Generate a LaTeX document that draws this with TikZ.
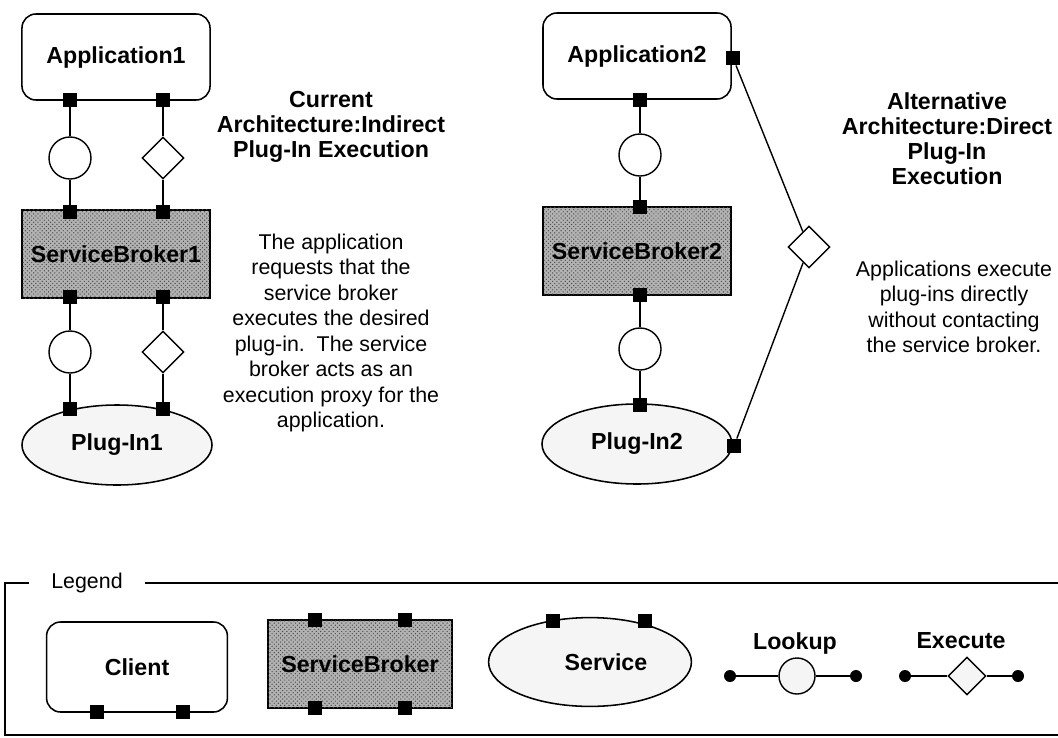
\documentclass[tikz,border=0pt]{standalone}
\usepackage{fontspec}
\setmainfont{Liberation Sans}
\usetikzlibrary{positioning,shapes.geometric,patterns}
\newcommand{\bigbf}{\fontsize{16.5}{17.8}\selectfont\bfseries}
\newcommand{\bodytxt}{\fontsize{15.2}{18.1}\selectfont}

\begin{document}
\begin{tikzpicture}[x=0.025cm, y=-0.025cm,
    port/.style={rectangle, fill=black, minimum size=0.36cm, inner sep=0pt},
    client/.style={draw, line width=1.1pt, rounded corners=0.35cm, minimum width=4.7cm, minimum height=2.15cm, font=\bigbf},
    broker/.style={draw, line width=1.1pt, fill=gray!60, postaction={pattern=crosshatch dots, pattern color=black!70}, minimum width=4.7cm, minimum height=2.2cm, inner sep=0pt, font=\bigbf},
    service/.style={ellipse, draw, line width=1.1pt, fill=gray!8, minimum width=4.75cm, minimum height=2cm, font=\bigbf},
    lookup/.style={circle, draw, line width=1pt, fill=white, minimum size=1.05cm, inner sep=0pt},
    execute/.style={diamond, draw, line width=1pt, fill=white, minimum size=1.05cm, inner sep=0pt},
    bullet/.style={circle, fill=black, minimum size=0.3cm, inner sep=0pt},
    title/.style={align=center, font=\bigbf},
    note/.style={align=center, font=\bodytxt},
    wire/.style={line width=1pt}]
  \useasboundingbox (0,0) rectangle (1058,737);

  % current architecture
  \node[client] (app1) at (116,57) {Application1};
  \node[broker] (sb1) at (116,254) {ServiceBroker1};
  \node[service] (pi1) at (117,445) {Plug-In1};
  \node[port] (a1l) at (70,100) {};
  \node[port] (a1r) at (163,100) {};
  \node[port] (s1tl) at (70,212) {};
  \node[port] (s1tr) at (163,212) {};
  \node[port] (s1bl) at (70,297) {};
  \node[port] (s1br) at (163,297) {};
  \node[port] (p1l) at (70,409) {};
  \node[port] (p1r) at (163,409) {};
  \node[lookup] (lk1) at (70,158) {};
  \node[execute] (ex1) at (163,158) {};
  \node[lookup] (lk2) at (70,352) {};
  \node[execute] (ex2) at (163,352) {};
  \draw[wire] (a1l) -- (lk1) -- (s1tl);
  \draw[wire] (a1r) -- (ex1) -- (s1tr);
  \draw[wire] (s1bl) -- (lk2) -- (p1l);
  \draw[wire] (s1br) -- (ex2) -- (p1r);
  \node[title] (cur) at (331,127) {Current\\Architecture:Indirect\\Plug-In Execution};
  \node[note] (curtxt) at (331,333) {The application\\requests that the\\service broker\\executes the desired\\plug-in.\ \ The service\\broker acts as an\\execution proxy for the\\application.};

  % alternative architecture
  \node[client] (app2) at (637,56) {Application2};
  \node[broker] (sb2) at (637,251) {ServiceBroker2};
  \node[service] (pi2) at (637,444) {Plug-In2};
  \node[port] (a2b) at (640,100) {};
  \node[port] (a2r) at (733,58) {};
  \node[port] (s2t) at (640,207) {};
  \node[port] (s2b) at (640,295) {};
  \node[port] (p2t) at (640,405) {};
  \node[port] (p2r) at (734,446) {};
  \node[lookup] (lk3) at (640,155) {};
  \node[lookup] (lk4) at (640,349) {};
  \node[execute] (ex3) at (809,247) {};
  \draw[wire] (a2b) -- (lk3) -- (s2t);
  \draw[wire] (s2b) -- (lk4) -- (p2t);
  \draw[wire] (a2r) -- (ex3) -- (p2r);
  \node[title] (alt) at (947,139) {Alternative\\Architecture:Direct\\Plug-In\\Execution};
  \node[note] (alttxt) at (954,307) {Applications execute\\plug-ins directly\\without contacting\\the service broker.};

  % legend
  \node[font=\bodytxt, inner xsep=0.55cm] (legend) at (87,583) {Legend};
  \draw[line width=0.9pt] (legend.west) -- (5,583) -- (5,735) -- (1058,735);
  \draw[line width=0.9pt] (legend.east) -- (1058,583);
  \node[client, minimum width=4.52cm, minimum height=2.25cm] (lcl) at (137,667) {Client};
  \node[port] (lclp1) at (97,712) {};
  \node[port] (lclp2) at (183,712) {};
  \node[broker, minimum width=4.6cm] (lsb) at (360,664) {ServiceBroker};
  \node[port] (lsbp1) at (315,620) {};
  \node[port] (lsbp2) at (405,620) {};
  \node[port] (lsbp3) at (315,708) {};
  \node[port] (lsbp4) at (405,708) {};
  \node[service, minimum width=5.07cm, minimum height=2.22cm] (lsv) at (590,662) {\hspace*{0.8cm}Service};
  \node[port] (lsvp1) at (553,621) {};
  \node[port] (lsvp2) at (645,621) {};
  \node[bullet] (lkl) at (730,676) {};
  \node[lookup, fill=gray!8, minimum size=0.9cm] (lklk) at (797,676) {};
  \node[bullet] (lkr) at (856,676) {};
  \node[font=\bigbf] (lklab) at (795,643) {Lookup};
  \draw[wire] (lkl) -- (lklk) -- (lkr);
  \node[bullet] (exl) at (905,676) {};
  \node[execute, fill=gray!8, minimum size=0.95cm] (lex) at (967,676) {};
  \node[bullet] (exr) at (1018,676) {};
  \node[font=\bigbf] (exlab) at (961,641) {Execute};
  \draw[wire] (exl) -- (lex) -- (exr);
\end{tikzpicture}
\end{document}
